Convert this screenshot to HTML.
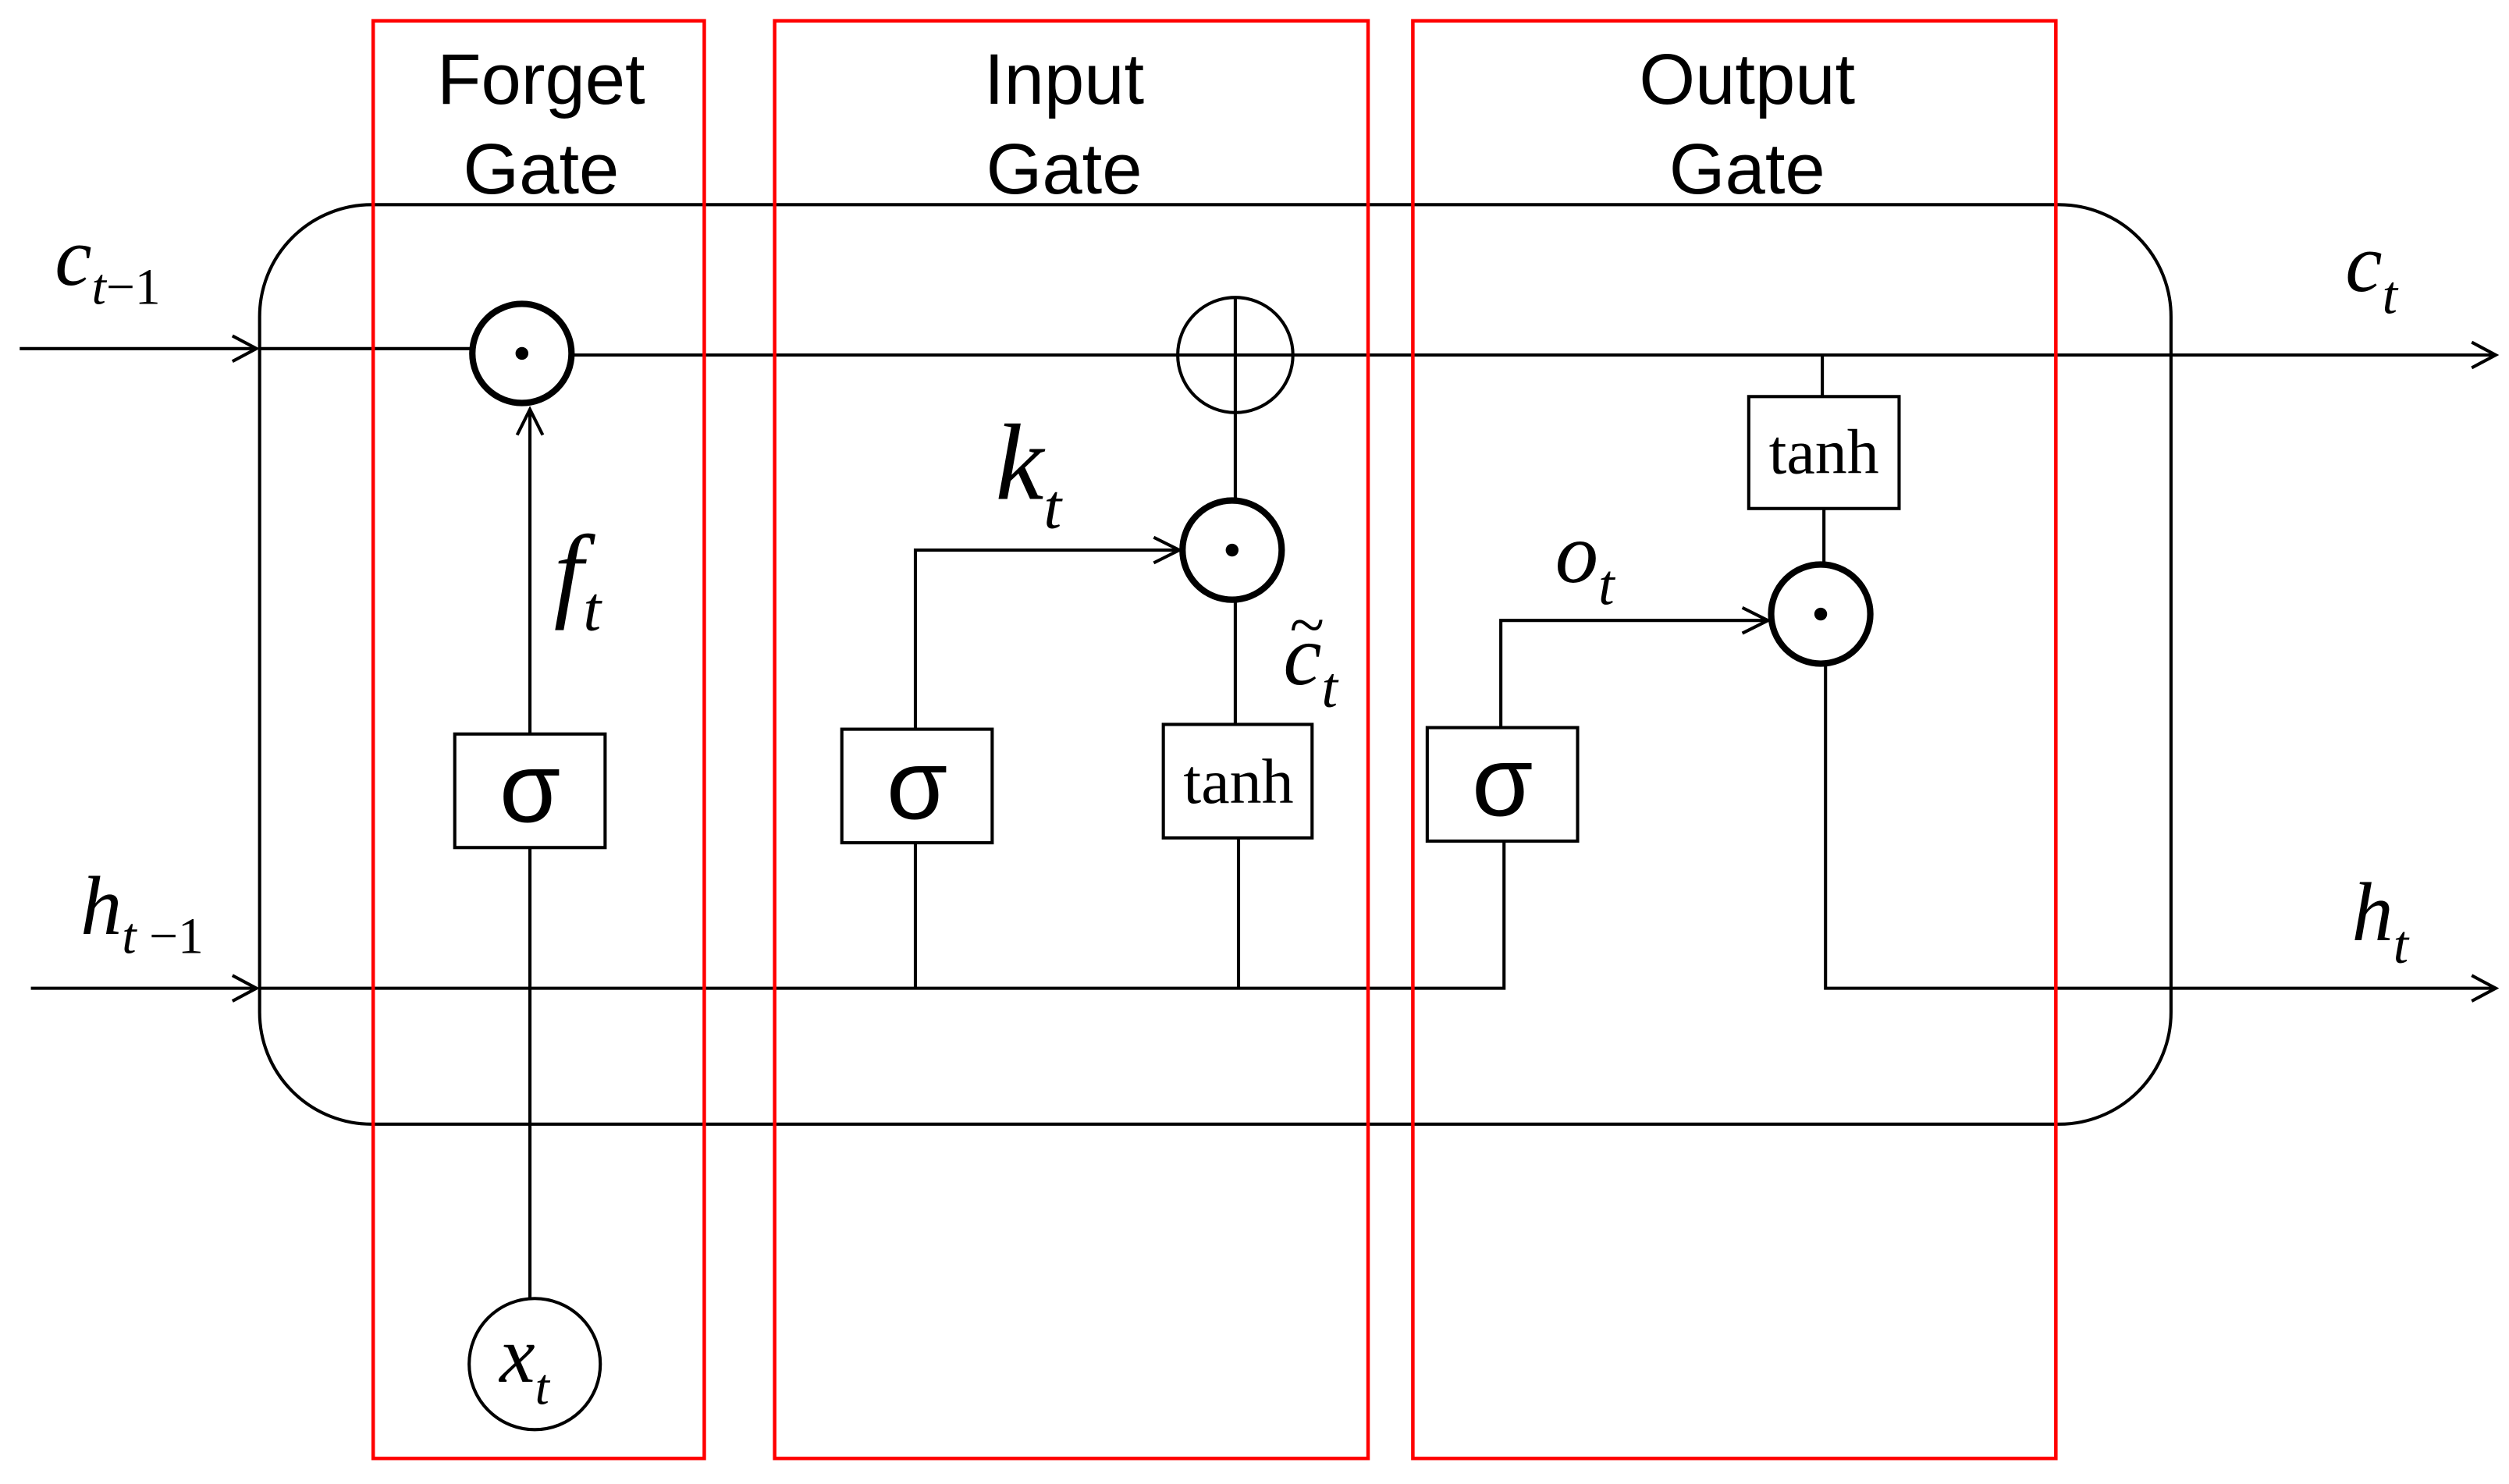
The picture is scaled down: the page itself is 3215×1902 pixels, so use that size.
<!DOCTYPE html>
<html><head><meta charset="utf-8"><style>html,body{margin:0;padding:0;background:#fff}svg{display:block}</style></head>
<body>
<svg width="3215" height="1902" viewBox="0 0 1568 928" xmlns="http://www.w3.org/2000/svg">
<rect width="1568" height="928" fill="#fff"/>
<g fill="none" stroke="#000" stroke-width="2">
<rect x="162" y="128" width="1195" height="575" rx="70" ry="70"/>
<path d="M12 218 H160 M145 210 L160 218 L145 226"/>
<path d="M162 218 H294 M358 222 H1560 M1545 214 L1560 222 L1545 230"/>
<path d="M19 618 H160 M145 610 L160 618 L145 626"/>
<path d="M162 618 H940 V526"/>
<path d="M1141 416 V618 H1560 M1545 610 L1560 618 L1545 626"/>
<path d="M331 530 V812 M331 459 V256 M323 272 L331 256 L339 272"/>
<path d="M572 527 V618 M572 456 V344 H737 M721 336 L737 344 L721 352"/>
<path d="M774 524 V618 M772 453 V376 M772 312 V186"/>
<path d="M938 455 V388 H1105 M1089 380 L1105 388 L1089 396"/>
<path d="M1139 222 V248 M1140 318 V352"/>
<circle cx="772" cy="222" r="36"/>
<path d="M736 222 H808"/>
<circle cx="334" cy="853" r="41"/>
<rect x="284" y="459" width="94" height="71"/>
<rect x="526" y="456" width="94" height="71"/>
<rect x="892" y="455" width="94" height="71"/>
<rect x="727" y="453" width="93" height="71"/>
<rect x="1093" y="248" width="94" height="70"/>
</g>
<g fill="#fff" stroke="#000" stroke-width="4">
<circle cx="326" cy="221" r="31"/>
<circle cx="770" cy="344" r="31"/>
<circle cx="1138" cy="384" r="31"/>
</g>
<g fill="#000"><circle cx="326" cy="221" r="4"/><circle cx="770" cy="344" r="4"/><circle cx="1138" cy="384" r="4"/></g>
<g fill="none" stroke="#f00" stroke-width="2.2">
<rect x="233" y="13" width="207" height="899"/>
<rect x="484" y="13" width="371" height="899"/>
<rect x="883" y="13" width="402" height="899"/>
</g>
<g font-family="Liberation Sans, sans-serif" font-size="45" text-anchor="middle" fill="#000">
<text x="338" y="65">Forget</text><text x="338" y="121">Gate</text>
<text x="665" y="65">Input</text><text x="665" y="121">Gate</text>
<text x="1092" y="65">Output</text><text x="1092" y="121">Gate</text>
<text x="331" y="514" font-size="62">σ</text>
<text x="573" y="512" font-size="62">σ</text>
<text x="939" y="510" font-size="62">σ</text>
</g>
<g font-family="Liberation Serif, serif" font-size="40" text-anchor="middle" fill="#000">
<text x="774" y="502">tanh</text>
<text x="1140" y="296">tanh</text>
</g>
<g font-family="Liberation Serif, serif" font-style="italic" fill="#000">
<text x="34" y="178" font-size="52">c<tspan font-size="32" dy="12">t</tspan><tspan font-size="32" font-style="normal">−1</tspan></text>
<text x="50" y="584" font-size="52">h<tspan font-size="32" dy="12">t</tspan><tspan font-size="32" font-style="normal"> −1</tspan></text>
<text x="1466" y="182" font-size="52">c<tspan font-size="34" dy="14">t</tspan></text>
<text x="1470" y="588" font-size="52">h<tspan font-size="34" dy="14">t</tspan></text>
<text x="346" y="380" font-size="66">f<tspan font-size="40" dy="14">t</tspan></text>
<text x="622" y="312" font-size="68">k<tspan font-size="40" dy="18">t</tspan></text>
<text x="972" y="364" font-size="54">o<tspan font-size="36" dy="14">t</tspan></text>
<text x="802" y="428" font-size="54">c<tspan font-size="36" dy="14">t</tspan></text>
<text x="806" y="404" font-size="40" font-style="normal">~</text>
<text x="312" y="864" font-size="50">x<tspan font-size="32" dy="14">t</tspan></text>
</g>
</svg>
</body></html>
